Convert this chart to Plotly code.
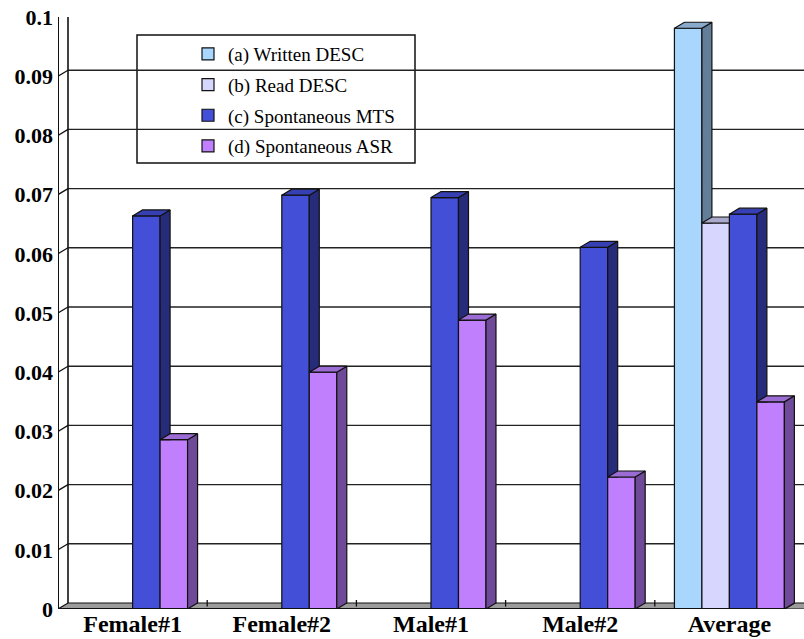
import plotly.graph_objects as go

categories = ["Female#1", "Female#2", "Male#1", "Male#2", "Average"]
series_names = ["(a) Written DESC", "(b) Read DESC", "(c) Spontaneous MTS", "(d) Spontaneous ASR"]
written_desc = [None, None, None, None, 0.0981]
read_desc = [None, None, None, None, 0.0652]
spont_mts = [0.0664, 0.0699, 0.0695, 0.0611, 0.0667]
spont_asr = [0.0286, 0.0400, 0.0488, 0.0223, 0.0350]
y_ticks = [0, 0.01, 0.02, 0.03, 0.04, 0.05, 0.06, 0.07, 0.08, 0.09, 0.1]
y_tick_labels = ["0", "0.01", "0.02", "0.03", "0.04", "0.05", "0.06", "0.07", "0.08", "0.09", "0.1"]

front_colors = ["#A8D6FD", "#D6D6FE", "#424FD6", "#C080FE"]
side_colors = ["#627E98", "#8C8CB0", "#262B7A", "#6F4A98"]
top_colors = ["#8AAACB", "#A9A9CC", "#3640B2", "#9A6CD4"]

series_values = [written_desc, read_desc, spont_mts, spont_asr]

W, H = 804, 639
ML, MR, MT, MB = 58, 0, 17, 30
PW, PH = W - ML - MR, H - MT - MB
X0, X1 = -0.5, 4.5
Y0, Y1 = 0.0, 0.1
# depth offset of the 3D projection (10 px right, 6 px up)
DX = 10 * (X1 - X0) / PW
DY = 6 * (Y1 - Y0) / PH

BARGAP = 0.263
n = len(series_values)
bw = (1 - BARGAP) / n

fig = go.Figure()

# front faces as real bars
for k, (name, vals) in enumerate(zip(series_names, series_values)):
    fig.add_trace(go.Bar(
        x=list(range(len(categories))), y=vals, name=name,
        marker=dict(color=front_colors[k], line=dict(color="#111111", width=1.2)),
        legendgroup=name,
    ))

# side and top faces
def poly(xs, ys, color):
    fig.add_trace(go.Scatter(
        x=xs + [xs[0]], y=ys + [ys[0]], mode="lines", fill="toself",
        fillcolor=color, line=dict(color="#111111", width=1.2),
        showlegend=False, hoverinfo="skip",
    ))

for i in range(len(categories)):
    for k in range(n):
        v = series_values[k][i]
        if v is None:
            continue
        left = i - (1 - BARGAP) / 2 + k * bw
        right = left + bw
        v_next = series_values[k + 1][i] if k + 1 < n else None
        # side face, hidden below the next bar's front
        low = v_next if v_next is not None else 0.0
        if low < v + DY:
            lo_l = min(max(low, 0.0), v)
            lo_r = max(low, DY)
            poly([right, right + DX, right + DX, right],
                 [lo_l, lo_r, v + DY, v], side_colors[k])
        # top face
        if v_next is not None and v_next > v:
            poly([left, left + DX, right, right], [v, v + DY, v + DY, v], top_colors[k])
        else:
            poly([left, left + DX, right + DX, right], [v, v + DY, v + DY, v], top_colors[k])

shapes = []
line_c = "#111111"
right_front = X1 - BARGAP / 2
# floor
shapes.append(dict(type="path", xref="x", yref="y", layer="below",
                   path=f"M{X0},{Y0} L{X0 + DX},{DY} L{X1 + DX},{DY} L{X1 + DX},{Y0} L{right_front + DX},{Y0} L{right_front},{Y0} Z",
                   fillcolor="#9C9C9C", line=dict(color=line_c, width=1.2)))
shapes.append(dict(type="path", xref="x", yref="y", layer="below",
                   path=f"M{right_front},{Y0} L{right_front + DX},{DY}",
                   line=dict(color=line_c, width=1.5)))
# back wall grid lines
for t in y_ticks[1:]:
    shapes.append(dict(type="line", xref="x", yref="y", layer="below",
                       x0=X0 + DX, x1=X1 + DX, y0=t + DY, y1=t + DY,
                       line=dict(color="#222222", width=2.2 if t == y_ticks[-1] else 1.4)))
    shapes.append(dict(type="line", xref="x", yref="y", layer="below",
                       x0=X0, x1=X0 + DX, y0=t, y1=t + DY,
                       line=dict(color=line_c, width=1.3)))
# back wall left edge
shapes.append(dict(type="line", xref="x", yref="y", layer="below",
                   x0=X0 + DX, x1=X0 + DX, y0=DY, y1=Y1 + DY, line=dict(color=line_c, width=1.6)))
# front axis
shapes.append(dict(type="line", xref="x", yref="y", layer="below",
                   x0=X0, x1=X0, y0=Y0, y1=Y1, line=dict(color=line_c, width=2)))
# front floor edge
shapes.append(dict(type="line", xref="x", yref="y", layer="above",
                   x0=X0, x1=right_front, y0=Y0, y1=Y0, line=dict(color=line_c, width=2.2)))
# category separator ticks on floor
for i in range(len(categories) - 1):
    shapes.append(dict(type="line", xref="x", yref="y", layer="below",
                       x0=i + 0.5, x1=i + 0.5, y0=DY * 0.4, y1=DY * 1.5,
                       line=dict(color=line_c, width=1.3)))
# legend box
shapes.append(dict(type="rect", xref="paper", yref="paper", layer="below",
                   x0=(137 - ML) / PW, x1=(415 - ML) / PW,
                   y0=(H - MB - 163) / PH, y1=(H - MB - 35) / PH,
                   fillcolor="white", line=dict(color=line_c, width=1.5)))

fig.update_layout(
    width=W, height=H,
    margin=dict(l=ML, r=MR, t=MT, b=MB, pad=0),
    paper_bgcolor="white", plot_bgcolor="rgba(0,0,0,0)",
    barmode="group", bargap=BARGAP, bargroupgap=0,
    shapes=shapes,
    showlegend=True,
    legend=dict(x=(188 - ML) / PW, y=(H - MB - 35) / PH, xanchor="left", yanchor="top",
                bgcolor="rgba(0,0,0,0)", borderwidth=0,
                font=dict(family="Liberation Serif", size=19, color="black"),
                tracegroupgap=3, traceorder="grouped"),
    xaxis=dict(range=[X0, X1], tickvals=list(range(len(categories))), ticktext=categories,
               showgrid=False, zeroline=False, showline=False, ticks="",
               ticklabelstandoff=-2,
               tickfont=dict(family="Liberation Serif", size=24, color="black", weight="bold")),
    yaxis=dict(range=[Y0, Y1], tickvals=y_ticks, ticktext=y_tick_labels,
               showgrid=False, zeroline=False, showline=False, ticks="",
               ticklabelstandoff=4,
               tickfont=dict(family="Liberation Serif", size=22, color="black", weight="bold")),
)

fig.write_html("out.html", config={"displayModeBar": False},
               post_script="document.body.style.margin='0px';")
